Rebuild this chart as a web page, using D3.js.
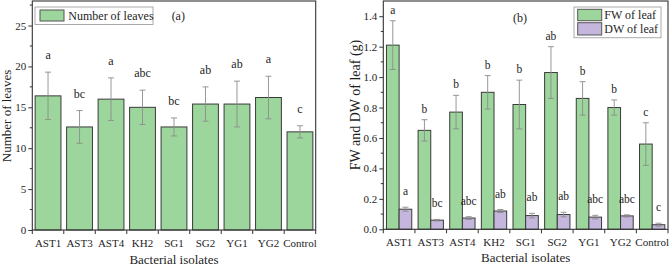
<!DOCTYPE html>
<html>
<head>
<meta charset="utf-8">
<script src="https://cdn.jsdelivr.net/npm/d3@7"></script>
<style>
  body { margin: 0; background: #fff; }
  svg text { font-family: "Liberation Serif", "DejaVu Serif", serif; fill: #1e1e1e; }
</style>
</head>
<body>
<script>
// dati
var isolates = ["AST1", "AST3", "AST4", "KH2", "SG1", "SG2", "YG1", "YG2", "Control"];

// pannello (a) - numero di foglie
var leaves = [16.4, 12.6, 16.0, 15.0, 12.6, 15.4, 15.4, 16.2, 12.0];
var leavesErr = [2.9, 2.0, 2.6, 2.1, 1.1, 2.1, 2.8, 2.6, 0.75];
var leavesLetters = ["a", "bc", "a", "abc", "bc", "ab", "ab", "a", "c"];
var leavesTicks = [0, 5, 10, 15, 20, 25];

// pannello (b) - peso fresco e secco
var fw = [1.21, 0.65, 0.77, 0.90, 0.82, 1.03, 0.86, 0.80, 0.56];
var fwErr = [0.16, 0.07, 0.11, 0.11, 0.16, 0.17, 0.11, 0.05, 0.14];
var fwLetters = ["a", "b", "b", "b", "b", "ab", "b", "b", "c"];
var dw = [0.132, 0.060, 0.074, 0.120, 0.090, 0.097, 0.080, 0.088, 0.030];
var dwErr = [0.013, 0.005, 0.009, 0.010, 0.015, 0.015, 0.012, 0.007, 0.010];
var dwLetters = ["a", "bc", "abc", "ab", "ab", "ab", "abc", "abc", "c"];
var weightTicks = [0, 0.2, 0.4, 0.6, 0.8, 1.0, 1.2, 1.4];

var green = "#9dd69c", purple = "#c4b6dc";
var barStroke = "#3a3a3a", errColor = "#8c8c8c", axisColor = "#333";

var svg = d3.select("body")
    .append("svg")
    .attr("width", 669)
    .attr("height", 267);

// assi e cornice di un pannello
function drawFrame(g, x, y, w, h, ticks, minorStep, fmt, tickSize) {
    // tacche minori
    var minor = d3.range(minorStep, y.domain()[1], minorStep * 2);
    g.append("g").selectAll("line").data(minor).enter().append("line")
        .attr("x1", -2.5).attr("x2", 0)
        .attr("y1", function (d) { return y(d); })
        .attr("y2", function (d) { return y(d); })
        .attr("stroke", axisColor);

    var yAxis = d3.axisLeft(y).tickValues(ticks).tickFormat(fmt).tickSize(4).tickPadding(2);
    var ya = g.append("g").call(yAxis).attr("font-family", null).attr("font-size", null);
    ya.select(".domain").remove();
    ya.selectAll("line").attr("stroke", axisColor);
    ya.selectAll("text").style("font-size", tickSize + "px");

    // tacche in basso ai confini delle categorie
    var bounds = d3.range(0, isolates.length + 1).map(function (i) { return x.range()[0] + i * x.step(); });
    g.append("g").selectAll("line").data(bounds).enter().append("line")
        .attr("x1", function (d) { return d; })
        .attr("x2", function (d) { return d; })
        .attr("y1", h).attr("y2", h + 4)
        .attr("stroke", axisColor);

    g.append("g").selectAll("text").data(isolates).enter().append("text")
        .attr("x", function (d) { return x(d) + x.bandwidth() / 2; })
        .attr("y", h + 16.5)
        .attr("text-anchor", "middle")
        .style("font-size", tickSize + "px")
        .text(function (d) { return d; });

    g.append("rect")
        .attr("width", w).attr("height", h)
        .attr("fill", "none")
        .attr("stroke", axisColor)
        .attr("stroke-width", 1.1);
}

function errorBars(g, y, vals, errs, cx, cap) {
    var eb = g.append("g").selectAll("g").data(vals).enter().append("g")
        .attr("stroke", errColor).attr("stroke-width", 0.9);
    eb.append("line")
        .attr("x1", function (d, i) { return cx(i); })
        .attr("x2", function (d, i) { return cx(i); })
        .attr("y1", function (d, i) { return y(d - errs[i]); })
        .attr("y2", function (d, i) { return y(d + errs[i]); });
    [1, -1].forEach(function (s) {
        eb.append("line")
            .attr("x1", function (d, i) { return cx(i) - cap; })
            .attr("x2", function (d, i) { return cx(i) + cap; })
            .attr("y1", function (d, i) { return y(d + s * errs[i]); })
            .attr("y2", function (d, i) { return y(d + s * errs[i]); });
    });
}

function letters(g, y, vals, errs, labs, cx, gap, size) {
    g.append("g").selectAll("text").data(labs).enter().append("text")
        .attr("x", function (d, i) { return cx(i); })
        .attr("y", function (d, i) { return y(vals[i] + errs[i]) - gap; })
        .attr("text-anchor", "middle")
        .style("font-size", size + "px")
        .text(function (d) { return d; });
}

// ---------------- pannello (a) ----------------
var wa = 283.4, ha = 229;
var ga = svg.append("g").attr("transform", "translate(32.3,1)");
var xa = d3.scaleBand().domain(isolates).range([0, wa]).paddingInner(0.18).paddingOuter(0.09);
var ya = d3.scaleLinear().domain([0, 28]).range([ha, 0]);

ga.append("g").selectAll("rect").data(leaves).enter().append("rect")
    .attr("x", function (d, i) { return xa(isolates[i]); })
    .attr("y", function (d) { return ya(d); })
    .attr("width", xa.bandwidth())
    .attr("height", function (d) { return ha - ya(d); })
    .attr("fill", green)
    .attr("stroke", barStroke);

var cxa = function (i) { return xa(isolates[i]) + xa.bandwidth() / 2; };
errorBars(ga, ya, leaves, leavesErr, cxa, 3);
letters(ga, ya, leaves, leavesErr, leavesLetters, cxa, 13, 12);
drawFrame(ga, xa, ya, wa, ha, leavesTicks, 2.5, d3.format("d"), 11);

// legenda (a)
ga.append("rect").attr("x", 2.7).attr("y", 6).attr("width", 118).attr("height", 17.5)
    .attr("fill", "#fff").attr("stroke", "#aaa");
ga.append("rect").attr("x", 7.7).attr("y", 9).attr("width", 24).attr("height", 11)
    .attr("fill", green).attr("stroke", "#555");
ga.append("text").attr("x", 36).attr("y", 18.5).style("font-size", "12px").text("Number of leaves");
ga.append("text").attr("x", 146).attr("y", 18.5).attr("text-anchor", "middle").style("font-size", "12px").text("(a)");

svg.append("text")
    .attr("transform", "translate(11,116) rotate(-90)")
    .attr("text-anchor", "middle")
    .style("font-size", "13px")
    .text("Number of leaves");
svg.append("text")
    .attr("x", 32.3 + wa / 2).attr("y", 263.5)
    .attr("text-anchor", "middle")
    .style("font-size", "13px")
    .text("Bacterial isolates");

// ---------------- pannello (b) ----------------
var wb = 284.7, hb = 228.3;
var gb = svg.append("g").attr("transform", "translate(383.3,1)");
var xb = d3.scaleBand().domain(isolates).range([0, wb]).paddingInner(0.2).paddingOuter(0.1);
var yb = d3.scaleLinear().domain([0, 1.5]).range([hb, 0]);
var half = xb.bandwidth() / 2;

gb.append("g").selectAll("rect").data(fw).enter().append("rect")
    .attr("x", function (d, i) { return xb(isolates[i]); })
    .attr("y", function (d) { return yb(d); })
    .attr("width", half)
    .attr("height", function (d) { return hb - yb(d); })
    .attr("fill", green)
    .attr("stroke", barStroke);

gb.append("g").selectAll("rect").data(dw).enter().append("rect")
    .attr("x", function (d, i) { return xb(isolates[i]) + half; })
    .attr("y", function (d) { return yb(d); })
    .attr("width", half)
    .attr("height", function (d) { return hb - yb(d); })
    .attr("fill", purple)
    .attr("stroke", barStroke);

var cxFw = function (i) { return xb(isolates[i]) + half / 2; };
var cxDw = function (i) { return xb(isolates[i]) + half * 1.5; };
errorBars(gb, yb, fw, fwErr, cxFw, 3);
errorBars(gb, yb, dw, dwErr, cxDw, 3);
letters(gb, yb, fw, fwErr, fwLetters, cxFw, 7, 11.5);
letters(gb, yb, dw, dwErr, dwLetters, cxDw, 12, 11.5);
drawFrame(gb, xb, yb, wb, hb, weightTicks, 0.1, d3.format(".1f"), 11);

// legenda (b)
gb.append("rect").attr("x", 190.7).attr("y", 6).attr("width", 87).attr("height", 30.7)
    .attr("fill", "#fff").attr("stroke", "#aaa");
gb.append("rect").attr("x", 194.4).attr("y", 8.3).attr("width", 24).attr("height", 11.4)
    .attr("fill", green).attr("stroke", "#555");
gb.append("rect").attr("x", 194.4).attr("y", 21.7).attr("width", 24).attr("height", 12.3)
    .attr("fill", purple).attr("stroke", "#555");
gb.append("text").attr("x", 221).attr("y", 18).style("font-size", "12px").text("FW of leaf");
gb.append("text").attr("x", 221).attr("y", 32.3).style("font-size", "12px").text("DW of leaf");
gb.append("text").attr("x", 136.7).attr("y", 20.7).attr("text-anchor", "middle").style("font-size", "12px").text("(b)");

svg.append("text")
    .attr("transform", "translate(360,105) rotate(-90)")
    .attr("text-anchor", "middle")
    .style("font-size", "14px")
    .text("FW and DW of leaf (g)");
svg.append("text")
    .attr("x", 383.3 + wb / 2).attr("y", 262)
    .attr("text-anchor", "middle")
    .style("font-size", "13px")
    .text("Bacterial isolates");
</script>
</body>
</html>
